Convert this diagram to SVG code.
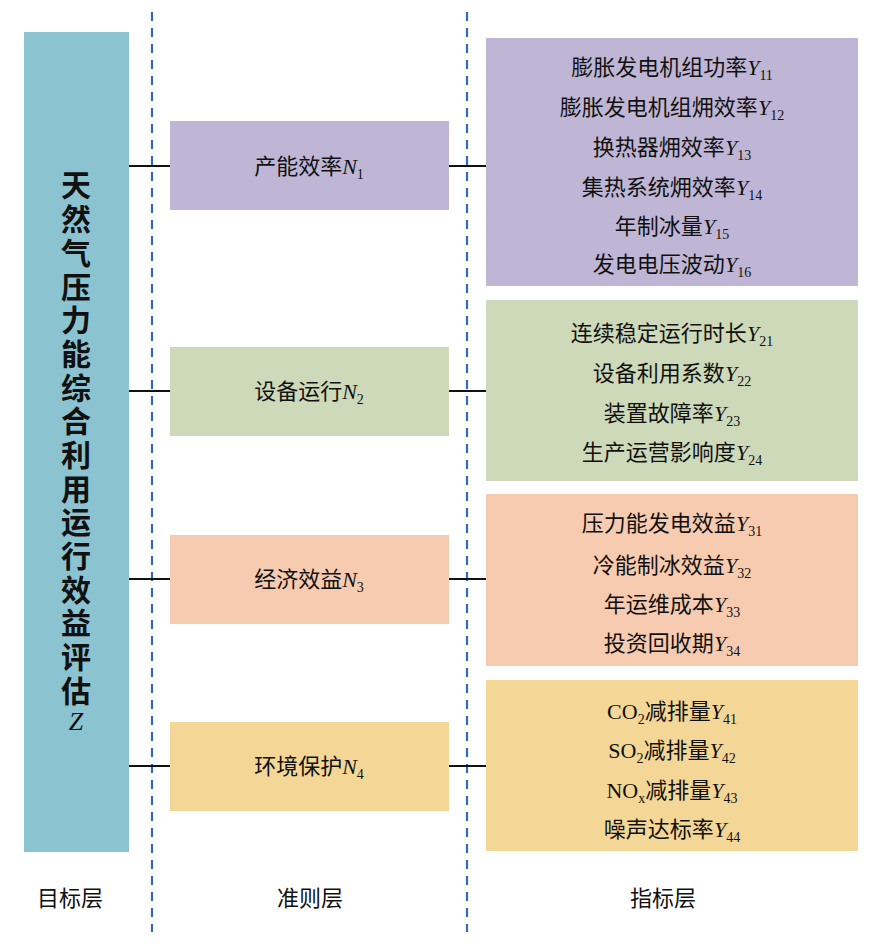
<svg xmlns="http://www.w3.org/2000/svg" width="885" height="944" viewBox="0 0 885 944">
<style>
text{font-family:"Liberation Serif","Noto Sans CJK SC",serif;fill:#111;text-anchor:middle}
.t{font-size:22px}
.v{font-size:30px;font-weight:bold}
.i{font-style:italic}
.s{font-size:14px}
.dash{stroke:#2e6db4;stroke-width:2.2;stroke-dasharray:9,7}
.c line{stroke:#111;stroke-width:2}
</style>
<rect width="885" height="944" fill="#fff"/>
<g id="dashes">
<line class="dash" x1="152" y1="12" x2="152" y2="932"/>
<line class="dash" x1="467" y1="12" x2="467" y2="932"/>
</g>
<g class="c" id="connectors">
<line x1="129" y1="166" x2="170" y2="166"/><line x1="449" y1="166" x2="486" y2="166"/>
<line x1="129" y1="391" x2="170" y2="391"/><line x1="449" y1="391" x2="486" y2="391"/>
<line x1="129" y1="579" x2="170" y2="579"/><line x1="449" y1="579" x2="486" y2="579"/>
<line x1="129" y1="766" x2="170" y2="766"/><line x1="449" y1="766" x2="486" y2="766"/>
</g>
<g id="Z">
<rect x="24" y="32" width="105" height="820" fill="#8cc3d1"/>
<text class="v" x="76" y="196">天</text><text class="v" x="76" y="230">然</text><text class="v" x="76" y="264">气</text><text class="v" x="76" y="298">压</text>
<text class="v" x="76" y="331">力</text><text class="v" x="76" y="365">能</text><text class="v" x="76" y="399">综</text><text class="v" x="76" y="432">合</text>
<text class="v" x="76" y="466">利</text><text class="v" x="76" y="500">用</text><text class="v" x="76" y="533">运</text><text class="v" x="76" y="567">行</text>
<text class="v" x="76" y="601">效</text><text class="v" x="76" y="634">益</text><text class="v" x="76" y="668">评</text><text class="v" x="76" y="702">估</text>
<text class="i" x="76" y="730" style="font-size:26px">Z</text>
</g>
<g id="N1"><rect x="170" y="121" width="279" height="89" fill="#bfb6d5"/><text class="t" x="309" y="174">产能效率<tspan class="i">N</tspan><tspan class="s" dy="5">1</tspan></text></g>
<g id="N2"><rect x="170" y="347" width="279" height="89" fill="#cdd9b9"/><text class="t" x="309" y="399">设备运行<tspan class="i">N</tspan><tspan class="s" dy="5">2</tspan></text></g>
<g id="N3"><rect x="170" y="535" width="279" height="89" fill="#f7cbb0"/><text class="t" x="309" y="587">经济效益<tspan class="i">N</tspan><tspan class="s" dy="5">3</tspan></text></g>
<g id="N4"><rect x="170" y="722" width="279" height="89" fill="#f4d797"/><text class="t" x="309" y="774">环境保护<tspan class="i">N</tspan><tspan class="s" dy="5">4</tspan></text></g>
<g id="Y1"><rect x="486" y="38" width="372" height="248" fill="#bfb6d5"/>
<text class="t" x="672" y="75">膨胀发电机组功率<tspan class="i">Y</tspan><tspan class="s" dy="5">11</tspan></text>
<text class="t" x="672" y="115">膨胀发电机组㶲效率<tspan class="i">Y</tspan><tspan class="s" dy="5">12</tspan></text>
<text class="t" x="672" y="155">换热器㶲效率<tspan class="i">Y</tspan><tspan class="s" dy="5">13</tspan></text>
<text class="t" x="672" y="195">集热系统㶲效率<tspan class="i">Y</tspan><tspan class="s" dy="5">14</tspan></text>
<text class="t" x="672" y="234">年制冰量<tspan class="i">Y</tspan><tspan class="s" dy="5">15</tspan></text>
<text class="t" x="672" y="272">发电电压波动<tspan class="i">Y</tspan><tspan class="s" dy="5">16</tspan></text></g>
<g id="Y2"><rect x="486" y="300" width="372" height="181" fill="#cdd9b9"/>
<text class="t" x="672" y="341">连续稳定运行时长<tspan class="i">Y</tspan><tspan class="s" dy="5">21</tspan></text>
<text class="t" x="672" y="381">设备利用系数<tspan class="i">Y</tspan><tspan class="s" dy="5">22</tspan></text>
<text class="t" x="672" y="421">装置故障率<tspan class="i">Y</tspan><tspan class="s" dy="5">23</tspan></text>
<text class="t" x="672" y="460">生产运营影响度<tspan class="i">Y</tspan><tspan class="s" dy="5">24</tspan></text></g>
<g id="Y3"><rect x="486" y="494" width="372" height="172" fill="#f7cbb0"/>
<text class="t" x="672" y="531">压力能发电效益<tspan class="i">Y</tspan><tspan class="s" dy="5">31</tspan></text>
<text class="t" x="672" y="573">冷能制冰效益<tspan class="i">Y</tspan><tspan class="s" dy="5">32</tspan></text>
<text class="t" x="672" y="612">年运维成本<tspan class="i">Y</tspan><tspan class="s" dy="5">33</tspan></text>
<text class="t" x="672" y="651">投资回收期<tspan class="i">Y</tspan><tspan class="s" dy="5">34</tspan></text></g>
<g id="Y4"><rect x="486" y="680" width="372" height="171" fill="#f4d797"/>
<text class="t" x="672" y="719">CO<tspan class="s" dy="5">2</tspan><tspan dy="-5">减排量</tspan><tspan class="i">Y</tspan><tspan class="s" dy="5">41</tspan></text>
<text class="t" x="672" y="758">SO<tspan class="s" dy="5">2</tspan><tspan dy="-5">减排量</tspan><tspan class="i">Y</tspan><tspan class="s" dy="5">42</tspan></text>
<text class="t" x="672" y="798">NO<tspan class="s" dy="5">x</tspan><tspan dy="-5">减排量</tspan><tspan class="i">Y</tspan><tspan class="s" dy="5">43</tspan></text>
<text class="t" x="672" y="837">噪声达标率<tspan class="i">Y</tspan><tspan class="s" dy="5">44</tspan></text></g>
<g id="labels">
<text class="t" x="70" y="906">目标层</text>
<text class="t" x="310" y="906">准则层</text>
<text class="t" x="663" y="906">指标层</text>
</g>
</svg>
